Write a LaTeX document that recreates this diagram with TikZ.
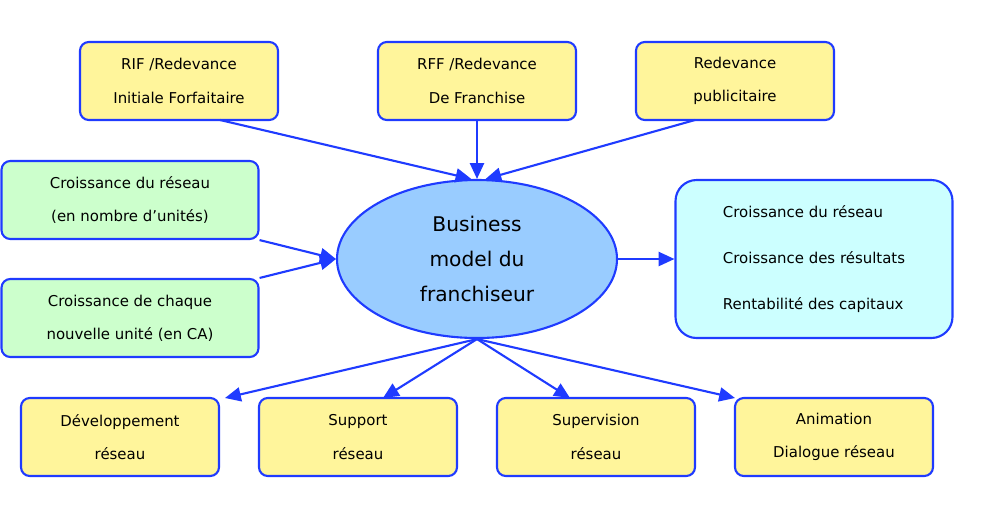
\documentclass[tikz,border=0pt]{standalone}
\usepackage{fontspec}
\setmainfont{DejaVu Sans}
\usetikzlibrary{arrows.meta,shapes.geometric}
\definecolor{boxBlue}{HTML}{1F3BFF}
\definecolor{boxYellow}{HTML}{FFF59B}
\definecolor{boxGreen}{HTML}{CCFFCC}
\definecolor{boxCyan}{HTML}{CCFFFF}
\definecolor{ellBlue}{HTML}{99CCFF}
\tikzset{
  baseBox/.style={rectangle, draw=boxBlue, line width=1.2pt, rounded corners=5pt, align=center, font=\fontsize{8.5}{19}\selectfont, inner sep=0pt},
  yellowBox/.style={baseBox, fill=boxYellow, minimum width=198\pxu, minimum height=78\pxu},
  greenBox/.style={baseBox, fill=boxGreen, minimum width=257\pxu, minimum height=78\pxu},
  link/.style={draw=boxBlue, line width=1.2pt, -{Triangle[length=9pt,width=8pt]}}
}
\newcommand{\pxu}{*0.02cm}
\begin{document}
\begin{tikzpicture}[x=0.02cm, y=-0.02cm]
\useasboundingbox (0,0) rectangle (1000,525);
	\node[yellowBox](rifBox) at (179,81){RIF /Redevance\\Initiale Forfaitaire};
	\node[yellowBox](rffBox) at (477,81){RFF /Redevance\\De Franchise};
	\node[yellowBox](pubBox) at (735,81){Redevance\\publicitaire};

	\node[greenBox](reseauBox) at (130,200){Croissance du réseau\\(en nombre d’unités)};
	\node[greenBox](uniteBox) at (130,318){Croissance de chaque\\nouvelle unité (en CA)};

	\node[ellipse, draw=boxBlue, line width=1.2pt, fill=ellBlue, minimum width=280\pxu, minimum height=158\pxu, inner sep=0pt, align=center, font=\fontsize{11.5}{20}\selectfont](modelEll) at (477,259){Business\\model du\\franchiseur};

	\node[baseBox, fill=boxCyan, rounded corners=12pt, minimum width=277\pxu, minimum height=158\pxu, align=left, font=\fontsize{8.5}{26}\selectfont](resultBox) at (814,259){Croissance du réseau\\Croissance des résultats\\Rentabilité des capitaux};

	\node[yellowBox](devBox) at (120,437){Développement\\réseau};
	\node[yellowBox](supBox) at (358,437){Support\\réseau};
	\node[yellowBox](visBox) at (596,437){Supervision\\réseau};
	\node[yellowBox](animBox) at (834,437){Animation\\Dialogue réseau};

	% top inputs
	\draw[link] (220,120) -- (modelEll.94);
	\draw[link] (rffBox.south) -- (modelEll.north);
	\draw[link] (695,120) -- (modelEll.84);
	% side inputs
	\draw[link] (reseauBox.south east) -- (modelEll.west);
	\draw[link] (uniteBox.north east) -- (modelEll.west);
	\draw[link] (modelEll.east) -- (resultBox.west);
	% outputs
	\draw[link] (modelEll.south) -- (225,398);
	\draw[link] (modelEll.south) -- (383,398);
	\draw[link] (modelEll.south) -- (570,398);
	\draw[link] (modelEll.south) -- (735,398);
\end{tikzpicture}
\end{document}
